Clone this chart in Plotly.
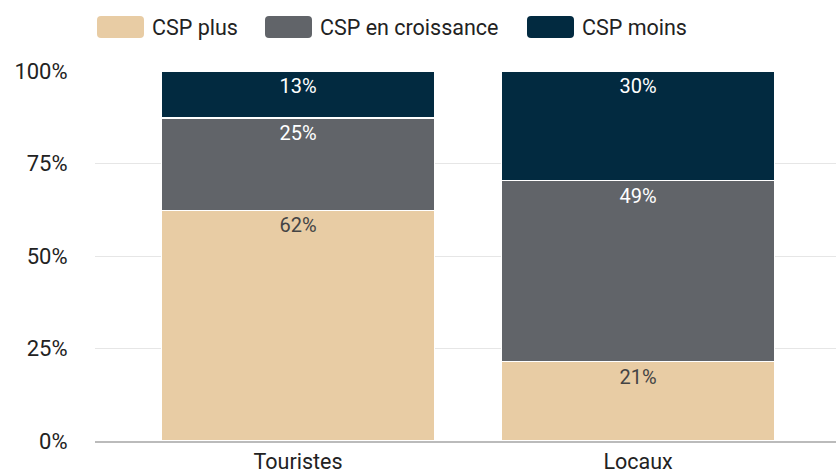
import plotly.graph_objects as go

categories = ["Touristes", "Locaux"]
series_names = ["CSP plus", "CSP en croissance", "CSP moins"]
csp_plus = [62.4, 21.4]
csp_croissance = [24.9, 48.9]
csp_moins = [12.7, 29.7]
y_ticks = [0, 25, 50, 75, 100]
y_tick_labels = ["0%", "25%", "50%", "75%", "100%"]

colors = ["#e8cca4", "#616469", "#022a40"]
text_colors = ["#444444", "#ffffff", "#ffffff"]
values = [csp_plus, csp_croissance, csp_moins]

FONT = "Roboto"
W, H = 836, 469
L, T, B = 95, 71, 28

fig = go.Figure()
for name, vals, col, tcol in zip(series_names, values, colors, text_colors):
    fig.add_trace(go.Bar(
        x=categories, y=vals, name=name,
        marker=dict(color=col, line=dict(color="#ffffff", width=1.2)),
        width=0.803,
        texttemplate="%{y:.0f}%", textposition="inside",
        insidetextanchor="end",
        textfont=dict(family=FONT, size=20, color=tcol),
        textangle=0,
        showlegend=False,
        hoverinfo="skip",
    ))


def px(xp):
    return (xp - L) / (W - L)


def py(yp):
    return (H - B - yp) / (H - B - T)


# custom legend (swatches + labels)
sw_x = [97, 265, 527]
for i, (name, col) in enumerate(zip(series_names, colors)):
    x0, x1 = sw_x[i], sw_x[i] + 47
    y0, y1 = 16, 38
    r = 4
    path = (f"M {px(x0+r)},{py(y0)} L {px(x1-r)},{py(y0)} Q {px(x1)},{py(y0)} {px(x1)},{py(y0+r)} "
            f"L {px(x1)},{py(y1-r)} Q {px(x1)},{py(y1)} {px(x1-r)},{py(y1)} L {px(x0+r)},{py(y1)} "
            f"Q {px(x0)},{py(y1)} {px(x0)},{py(y1-r)} L {px(x0)},{py(y0+r)} Q {px(x0)},{py(y0)} {px(x0+r)},{py(y0)} Z")
    fig.add_shape(type="path", path=path, xref="paper", yref="paper",
                  fillcolor=col, line=dict(width=0), layer="above")
    fig.add_annotation(x=px(x1 + 6), y=py(27), xref="paper", yref="paper",
                       text=name, showarrow=False, xanchor="left", yanchor="middle",
                       font=dict(family=FONT, size=21.5, color="#222222"))

fig.update_layout(
    width=W, height=H,
    barmode="stack",
    margin=dict(l=L, r=0, t=T, b=B, autoexpand=False),
    paper_bgcolor="#ffffff", plot_bgcolor="#ffffff",
    font=dict(family=FONT, color="#222222"),
    xaxis=dict(range=[-0.597, 1.582], showgrid=False, zeroline=False,
               showline=True, linecolor="#bbbbbb", linewidth=2,
               tickfont=dict(family=FONT, size=21.5, color="#222222"),
               ticks="", fixedrange=True),
    yaxis=dict(range=[0, 100], tickvals=y_ticks, ticktext=y_tick_labels,
               showgrid=True, gridcolor="#e6e6e6", gridwidth=1,
               zeroline=False, showline=False,
               ticks="outside", ticklen=22, tickcolor="rgba(0,0,0,0)",
               tickfont=dict(family=FONT, size=22, color="#222222"),
               fixedrange=True),
)

fig.write_html("out.html", config={"displayModeBar": False, "staticPlot": True},
               post_script="document.body.style.margin='0';document.body.style.padding='0';")
